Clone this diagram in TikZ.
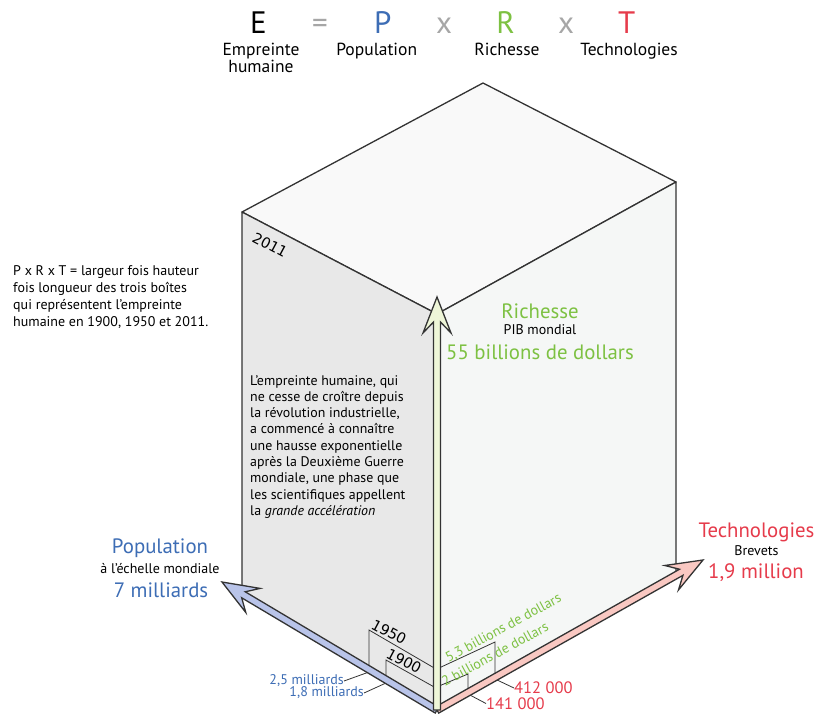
\documentclass[tikz,border=0pt]{standalone}
\usepackage{fontspec}
\setmainfont{PT Sans}
\newfontfamily\chiffres{DejaVu Sans}
\usetikzlibrary{calc}

\definecolor{popblue}{HTML}{3D6DB5}
\definecolor{richgreen}{HTML}{7DC142}
\definecolor{techred}{HTML}{E63B4B}
\definecolor{popfill}{HTML}{B9C4E9}
\definecolor{richfill}{HTML}{EEF6D8}
\definecolor{techfill}{HTML}{F9C8C2}
\definecolor{edgegray}{HTML}{333333}
\definecolor{leftface}{HTML}{E8E8E8}
\definecolor{rightface}{HTML}{F5F7F6}
\definecolor{topface}{HTML}{F9F9F9}

\begin{document}
\begin{tikzpicture}[x=1pt, y=-1pt]
\tikzstyle{Edge}=[draw=edgegray, line width=1.3pt, line join=round]
\tikzstyle{Fleche}=[draw=edgegray, line width=1.3pt, line join=miter]
\tikzstyle{Trait}=[draw=edgegray, line width=0.8pt]
\tikzstyle{Lettre}=[inner sep=0pt, anchor=base, font=\fontsize{31}{31}\selectfont]
\tikzstyle{Sous}=[inner sep=0pt, anchor=base, font=\fontsize{17.5}{18}\selectfont]
\tikzstyle{Grand}=[inner sep=0pt, font=\fontsize{20.8}{22}\selectfont]
\tikzstyle{Petit}=[inner sep=0pt, font=\fontsize{14}{15}\selectfont]
\tikzstyle{Annee}=[inner sep=0pt, rotate=-28, font=\chiffres\fontsize{14.5}{15}\selectfont]
\tikzstyle{Valeur}=[inner sep=0pt, rotate=28.5, text=richgreen, font=\fontsize{14}{15}\selectfont]
\tikzstyle{Bloc}=[inner sep=0pt, anchor=north west, align=left]
\tikzstyle{Brevet}=[inner sep=0pt, anchor=west, text=techred, font=\fontsize{16.5}{17}\selectfont]

\useasboundingbox[fill=white] (0,0) rectangle (817,713);

% formule
\node[Lettre] (E) at (258.5,33) {E};
\node[Lettre, text=black!35] (egal) at (320,33) {=};
\node[Lettre, text=popblue] (P) at (382.7,33) {P};
\node[Lettre, text=black!35] (fois1) at (444,33) {x};
\node[Lettre, text=richgreen] (R) at (505.5,33) {R};
\node[Lettre, text=black!35] (fois2) at (566,33) {x};
\node[Lettre, text=techred] (T) at (626.7,33) {T};
\node[Sous] (empr) at (261,55) {Empreinte};
\node[Sous] (hum) at (261,72) {humaine};
\node[Sous] (popu) at (376.7,55) {Population};
\node[Sous] (rich) at (507,55) {Richesse};
\node[Sous] (tech) at (629,55) {Technologies};

% texte de gauche
\node[Bloc, font=\fontsize{14}{17.2}\selectfont] (note) at (13,265)
  {P x R x T = largeur fois hauteur\\fois longueur des trois boîtes\\qui représentent l’empreinte\\humaine en 1900, 1950 et 2011.};

% la boite
\coordinate (A) at (242,212);
\coordinate (B) at (483,83);
\coordinate (C) at (676,182);
\coordinate (F) at (437,314);
\coordinate (O) at (437,710);
\coordinate (L) at (242,595);
\coordinate (Rb) at (676,575);
\filldraw[Edge, fill=topface] (A) -- (B) -- (C) -- (F) -- cycle;
\filldraw[Edge, fill=leftface] (A) -- (F) -- (O) -- (L) -- cycle;
\filldraw[Edge, fill=rightface] (F) -- (C) -- (Rb) -- (O) -- cycle;

\node[Annee] (an2011) at (270,245) {2011};
\node[Bloc, font=\fontsize{13.9}{16.3}\selectfont] (texte) at (250,375)
  {L’empreinte humaine, qui\\ne cesse de croître depuis\\la révolution industrielle,\\a commencé à connaître\\une hausse exponentielle\\après la Deuxième Guerre\\mondiale, une phase que\\les scientifiques appellent\\la \textit{grande accélération}};

% petites boites 1900 et 1950
\coordinate (b50) at (369,630);
\coordinate (b50f) at (436,669);
\coordinate (b50p) at (369,672);
\coordinate (b00) at (386,660);
\coordinate (b00f) at (436,688);
\coordinate (b00p) at (386,683);
\coordinate (g53) at (495,642);
\coordinate (g53f) at (439,668);
\coordinate (g53p) at (495,679);
\coordinate (g2) at (468,674);
\coordinate (g2f) at (439,686);
\coordinate (g2p) at (468,694);
\node[Petit, text=popblue, anchor=east] (m25) at (344,681) {2,5 milliards};
\node[Petit, text=popblue, anchor=east] (m18) at (364,693) {1,8 milliards};
\node[Brevet] (r412) at (514,688) {412 000};
\node[Brevet] (r141) at (486,703.5) {141 000};
\draw[Trait] (b50f) -- (b50) -- (b50p) -- (m25.east);
\draw[Trait] (b00f) -- (b00) -- (b00p) -- (m18.east);
\draw[Trait] (g53f) -- (g53) -- (g53p) -- (r412.west);
\draw[Trait] (g2f) -- (g2) -- (g2p) -- (r141.west);
\node[Annee] (an1950) at (389,632) {1950};
\node[Annee] (an1900) at (404,661) {1900};
\node[Valeur] (v53) at (503.5,628.5) {5,3 billions de dollars};
\node[Valeur] (v2) at (495,654) {2 billions de dollars};

% fleches
\coordinate (pP) at (222,582);
\coordinate (pT) at (703,560);
\coordinate (pR) at (437,297);
\foreach \pointe/\couleur in {pP/popfill, pT/techfill, pR/richfill}{
  \filldraw[Fleche, fill=\couleur]
    ($(O)!3.5pt!90:(\pointe)$) -- ($(\pointe)!25pt!(O)!3.5pt!90:(\pointe)$)
    -- ($(\pointe)!36pt!(O)!14pt!90:(\pointe)$) -- (\pointe)
    -- ($(\pointe)!36pt!(O)!14pt!-90:(\pointe)$) -- ($(\pointe)!25pt!(O)!3.5pt!-90:(\pointe)$)
    -- ($(O)!3.5pt!-90:(\pointe)$) -- cycle;
}

% legendes des fleches
\node[Grand, text=richgreen] (richT) at (540,311) {Richesse};
\node[Petit] (richS) at (540,330) {PIB mondial};
\node[Grand, text=richgreen] (richV) at (540,352) {55 billions de dollars};
\node[Grand, text=popblue] (popT) at (160,548) {Population};
\node[Petit] (popS) at (160,569) {à l’échelle mondiale};
\node[Grand, text=popblue] (popV) at (161,590) {7 milliards};
\node[Grand, text=techred] (techT) at (756.5,532) {Technologies};
\node[Petit] (techS) at (756.5,551) {Brevets};
\node[Grand, text=techred] (techV) at (756,573) {1,9 million};
\end{tikzpicture}
\end{document}
